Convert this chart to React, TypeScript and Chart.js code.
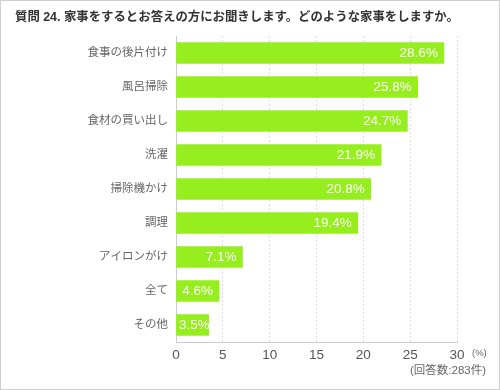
import React, { useEffect, useRef } from "react";
import { Chart, registerables } from "chart.js";

Chart.register(...registerables);

const titleText = "質問 24. 家事をするとお答えの方にお聞きします。どのような家事をしますか。";
const categories = [
  "食事の後片付け",
  "風呂掃除",
  "食材の買い出し",
  "洗濯",
  "掃除機かけ",
  "調理",
  "アイロンがけ",
  "全て",
  "その他",
];
const values = [28.6, 25.8, 24.7, 21.9, 20.8, 19.4, 7.1, 4.6, 3.5];
const unitLabel = "(%)";
const noteLabel = "(回答数:283件)";

const FAMILY = "'Liberation Sans', Arial, 'Noto Sans CJK JP', sans-serif";

export default function App() {
  const ref = useRef<HTMLCanvasElement | null>(null);

  useEffect(() => {
    if (!ref.current) return;
    const extras = {
      id: "extras",
      afterDraw(chart: any) {
        const ctx = chart.ctx;
        ctx.save();
        ctx.fillStyle = "#333";
        ctx.font = `bold 12.4px ${FAMILY}`;
        ctx.textAlign = "left";
        ctx.textBaseline = "middle";
        ctx.fillText(titleText, 15, 18);
        ctx.fillStyle = "#666";
        ctx.font = `9.5px ${FAMILY}`;
        ctx.fillText(unitLabel, 472, 353);
        ctx.font = `11.5px ${FAMILY}`;
        ctx.textAlign = "right";
        ctx.fillText(noteLabel, 486, 371);
        ctx.restore();
      },
      afterDatasetsDraw(chart: any) {
        const ctx = chart.ctx;
        const meta = chart.getDatasetMeta(0);
        ctx.save();
        ctx.fillStyle = "#ffffff";
        ctx.font = `13.5px ${FAMILY}`;
        ctx.textAlign = "left";
        ctx.textBaseline = "middle";
        meta.data.forEach((bar: any, i: number) => {
          const txt = values[i].toFixed(1) + "%";
          const w = ctx.measureText(txt).width;
          const x = Math.max(bar.x - 6 - w, 179);
          ctx.fillText(txt, x, bar.y + 0.5);
        });
        ctx.restore();
      },
    };
    const chart = new Chart(ref.current, {
      type: "bar",
      data: {
        labels: categories,
        datasets: [
          {
            data: values,
            backgroundColor: "#97ee1f",
            barThickness: 21,
          },
        ],
      },
      options: {
        indexAxis: "y",
        responsive: false,
        animation: false,
        devicePixelRatio: 1,
        layout: { padding: { left: 0, right: 43, top: 36, bottom: 0 } },
        plugins: {
          legend: { display: false },
          tooltip: { enabled: false },
        },
        scales: {
          x: {
            min: 0,
            max: 30,
            ticks: {
              stepSize: 5,
              color: "#555",
              font: { size: 13.5, family: FAMILY },
              padding: 5,
            },
            grid: { color: "#dddddd", drawTicks: false },
            border: { color: "#cccccc", dash: [2, 2] },
            afterFit: (s: any) => {
              s.height = 48;
            },
          },
          y: {
            ticks: {
              color: "#666",
              font: { size: 11.5, family: FAMILY },
              padding: 8,
            },
            grid: { color: "rgba(0,0,0,0)", drawTicks: false },
            border: { color: "#cccccc" },
            afterFit: (s: any) => {
              s.width = 176;
            },
          },
        },
      } as any,
      plugins: [extras],
    });
    return () => chart.destroy();
  }, []);

  return (
    <div style={{ position: "fixed", left: 0, top: 0, width: 500, height: 390, background: "#fff" }}>
      <canvas ref={ref} width={500} height={390} style={{ position: "absolute", left: 0, top: 0 }} />
      <div
        style={{
          position: "absolute",
          left: 0,
          top: 0,
          width: 500,
          height: 390,
          boxSizing: "border-box",
          border: "1px solid #cfcfcf",
          pointerEvents: "none",
        }}
      />
    </div>
  );
}
